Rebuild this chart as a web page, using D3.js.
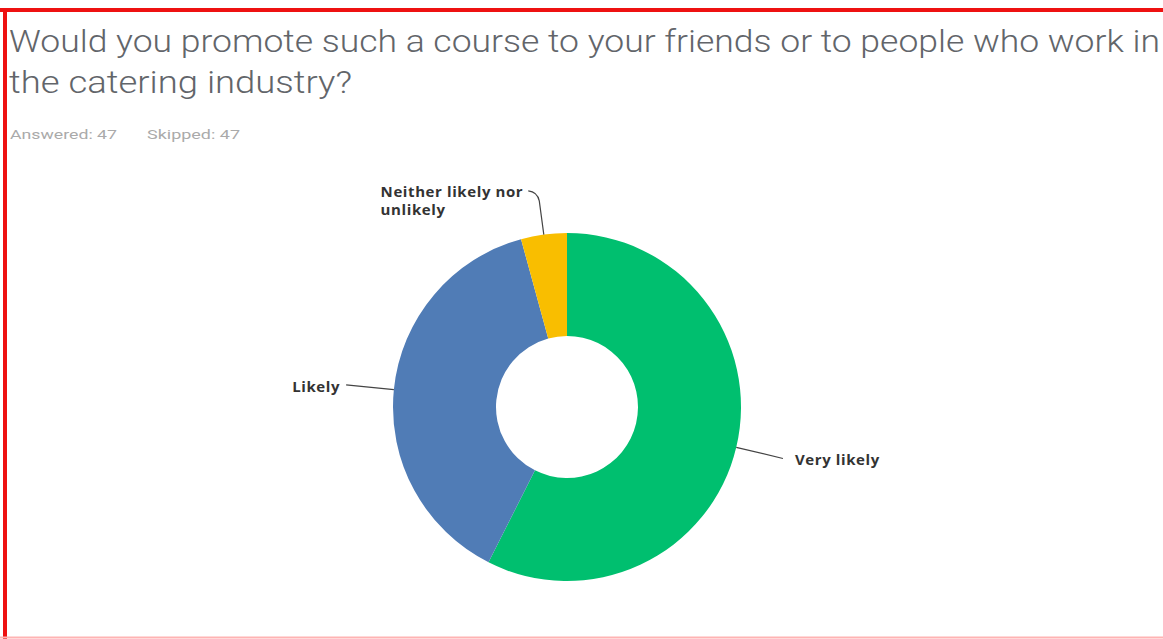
<!DOCTYPE html>
<html>
<head>
<meta charset="utf-8">
<script src="https://cdn.jsdelivr.net/npm/d3@7"></script>
<style>
  html, body { margin: 0; padding: 0; background: #fff; overflow: hidden; }
  svg { display: block; }
</style>
</head>
<body>
<svg id="chart" width="1163" height="639"></svg>
<script>
// Survey responses (47 answered)
const categories = ["Very likely", "Likely", "Neither likely nor unlikely"];
const responses = [27, 18, 2];
const colors = ["#00bf6f", "#507cb6", "#f9be00"];
const titleLines = [
  "Would you promote such a course to your friends or to people who work in",
  "the catering industry?"
];
const answered = 47;
const skipped = 47;

const svg = d3.select("#chart");
const W = 1163, H = 639;

// frame
svg.append("rect").attr("x", 0).attr("y", 0).attr("width", W).attr("height", H).attr("fill", "#fff");
svg.append("line").attr("x1", 0).attr("x2", W).attr("y1", 10).attr("y2", 10)
  .attr("stroke", "#ee1111").attr("stroke-width", 4);
svg.append("line").attr("x1", 5).attr("x2", 5).attr("y1", 8).attr("y2", H)
  .attr("stroke", "#ee1111").attr("stroke-width", 4);
svg.append("line").attr("x1", 0).attr("x2", W).attr("y1", 637.5).attr("y2", 637.5)
  .attr("stroke", "#ffb3b3").attr("stroke-width", 2);

// title, each line fitted to its measured span
const titleWidths = [1151, 343];
const title = svg.append("g").attr("font-family", "Roboto, sans-serif")
  .attr("font-weight", 300).attr("font-size", 31).attr("fill", "#62656a");
titleLines.forEach((t, i) => {
  title.append("text").attr("x", 9).attr("y", 52 + i * 41)
    .attr("textLength", titleWidths[i]).attr("lengthAdjust", "spacingAndGlyphs")
    .text(t);
});

const meta = svg.append("g").attr("font-family", "Roboto, sans-serif")
  .attr("font-size", 13).attr("fill", "#aaa");
meta.append("text").attr("x", 10).attr("y", 139)
  .attr("textLength", 107).attr("lengthAdjust", "spacingAndGlyphs")
  .text(`Answered: ${answered}`);
meta.append("text").attr("x", 147).attr("y", 139)
  .attr("textLength", 93).attr("lengthAdjust", "spacingAndGlyphs")
  .text(`Skipped: ${skipped}`);

// donut
const cx = 567, cy = 407;
const rOuter = 174, rInner = 71;
const pie = d3.pie().sort(null).value(d => d.value);
const arcs = pie(categories.map((c, i) => ({ name: c, value: responses[i], color: colors[i] })));
const arc = d3.arc().innerRadius(rInner).outerRadius(rOuter);

const g = svg.append("g").attr("transform", `translate(${cx},${cy})`);
g.selectAll("path.slice").data(arcs).join("path")
  .attr("class", "slice")
  .attr("d", arc)
  .attr("fill", d => d.data.color);

// labels with leader lines
const polar = (a, r) => [Math.sin(a) * r, -Math.cos(a) * r];

const labels = svg.append("g").attr("transform", `translate(${cx},${cy})`);
arcs.forEach((d, i) => {
  const mid = (d.startAngle + d.endAngle) / 2;
  const p0 = polar(mid, rOuter);
  let path, tx, ty, anchor, lines;
  if (i === 2) {
    const p1 = polar(mid, rOuter + 34);
    path = `M${p0[0]},${p0[1]} L${p1[0]},${p1[1]} Q${p1[0] - 2},${p1[1] - 9} ${p1[0] - 11},${p1[1] - 10}`;
    tx = p1[0] - 16; ty = p1[1] - 4; anchor = "end";
    lines = ["Neither likely nor", "unlikely"];
  } else {
    const p1 = polar(mid, rOuter + 48);
    path = `M${p0[0]},${p0[1]} L${p1[0]},${p1[1]}`;
    const left = p1[0] < 0;
    tx = p1[0] + (left ? -6 : 12); ty = p1[1] + 7;
    anchor = left ? "end" : "start";
    lines = [d.data.name];
  }
  labels.append("path").attr("d", path).attr("fill", "none")
    .attr("stroke", "#444").attr("stroke-width", 1.2);
  const t = labels.append("text")
    .attr("font-family", "'Open Sans', sans-serif").attr("font-size", 15)
    .attr("font-weight", 700).attr("letter-spacing", 0.6).attr("fill", "#333");
  if (lines.length === 1) {
    t.attr("x", tx).attr("y", ty).attr("text-anchor", anchor).text(lines[0]);
  } else {
    // first line right-aligned to the leader, second line shares its left edge
    const first = t.append("tspan").attr("x", tx).attr("y", ty).attr("text-anchor", "end").text(lines[0]);
    const w = first.node().getComputedTextLength();
    t.append("tspan").attr("x", tx - w).attr("y", ty + 18).attr("text-anchor", "start").text(lines[1]);
  }
});
</script>
</body>
</html>
